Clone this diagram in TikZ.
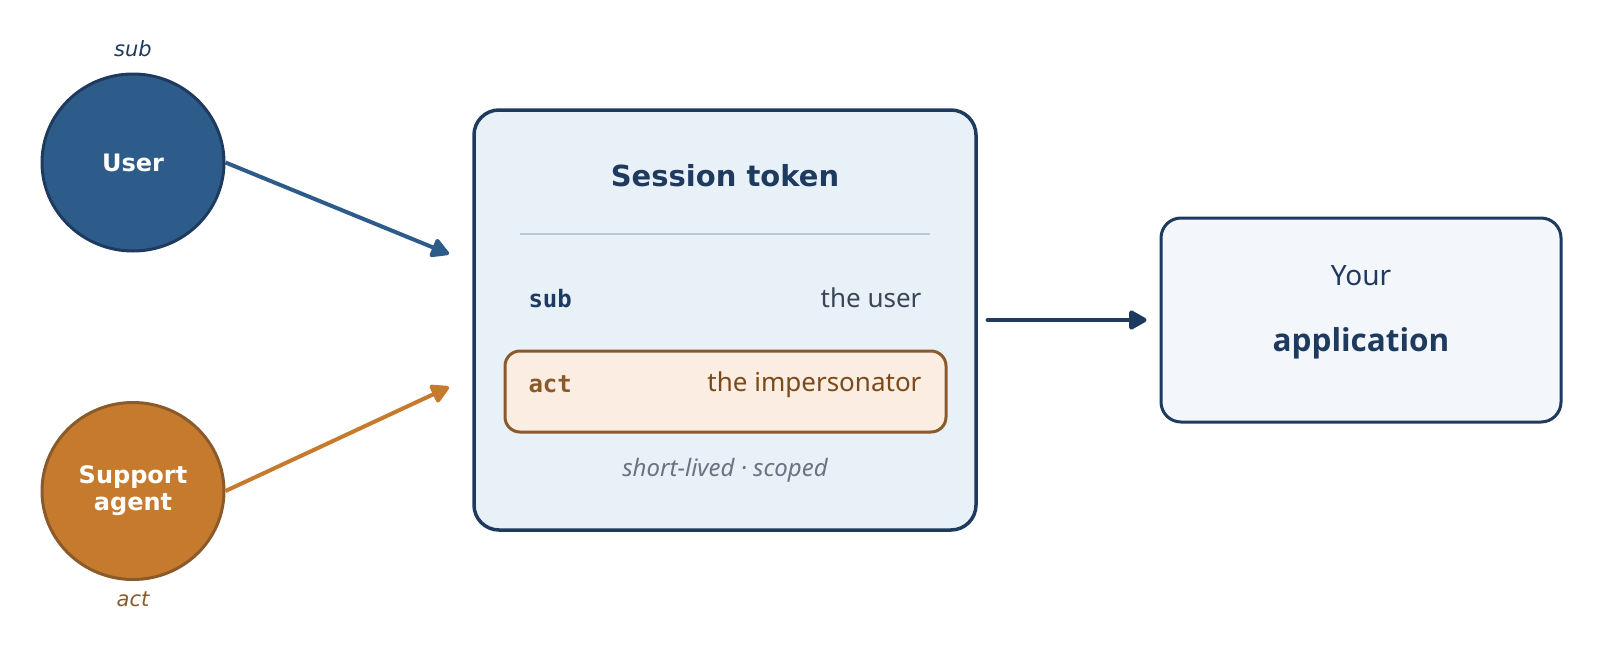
\documentclass[tikz,border=0pt]{standalone}
\usepackage{fontspec}
\setmainfont{DejaVu Sans}
\newfontfamily\noto{Noto Sans}
\newfontfamily\opensans{Open Sans}
\newfontfamily\dvmono{DejaVu Sans Mono}
\usetikzlibrary{arrows.meta,shapes.geometric}
\definecolor{navy}{HTML}{1F3A5F}
\definecolor{userblue}{HTML}{2E5C8A}
\definecolor{agentorange}{HTML}{C67A2E}
\definecolor{brown}{HTML}{8B5A2B}
\definecolor{browntext}{HTML}{7A4A1A}
\definecolor{tokenfill}{HTML}{E8F0F8}
\definecolor{actfill}{HTML}{FBEDE1}
\definecolor{appfill}{HTML}{F3F6FA}
\definecolor{sepline}{HTML}{B8C8D8}
\definecolor{graytext}{HTML}{6B7280}
\definecolor{darktext}{HTML}{3A4656}
\tikzset{
  actor/.style={ellipse, minimum width=182pt, minimum height=177pt, line width=3pt,
    text=white, font=\fontsize{24}{27}\selectfont\bfseries, align=center},
  role/.style={font=\fontsize{21}{24}\selectfont\itshape},
  flow/.style={line width=4pt, -{Triangle[length=20pt,width=21pt,round]}},
  keytxt/.style={font=\dvmono\fontsize{24}{28}\selectfont\bfseries, anchor=west},
  valtxt/.style={font=\noto\fontsize{26}{30}\selectfont, anchor=east},
}
\begin{document}
\begin{tikzpicture}[x=1pt,y=-1pt]
\useasboundingbox (0,0) rectangle (1603,645);
% actors
\node[actor, fill=userblue, draw=navy] (user) at (133,162.5) {User};
\node[actor, fill=agentorange, draw=brown] (agent) at (133,491) {Support\\agent};
\node[role, text=navy] (sublbl) at (133,49) {sub};
\node[role, text=brown] (actlbl) at (133,599) {act};
% session token box
\node[draw=navy, fill=tokenfill, line width=3.5pt, rounded corners=25pt,
  minimum width=502pt, minimum height=420pt] (token) at (725,320) {};
\node[text=navy, font=\fontsize{29}{32}\selectfont\bfseries] (title) at (725,176) {Session token};
\draw[sepline, line width=2pt] (520,234) coordinate (sepL) -- (930,234) coordinate (sepR);
\node[keytxt, text=navy] (subkey) at (525,298.5) {sub};
\node[valtxt, text=darktext] (subval) at (925,298) {the user};
\node[draw=brown, fill=actfill, line width=3pt, rounded corners=15pt,
  minimum width=441pt, minimum height=81pt] (actrow) at (725.5,391.5) {};
\node[keytxt, text=brown] (actkey) at (525,384) {act};
\node[valtxt, text=browntext] (actval) at (925,384.5) {the impersonator};
\node[text=graytext, font=\noto\fontsize{24}{27}\selectfont\itshape] (note) at (725,470) {short-lived · scoped};
% application
\node[draw=navy, fill=appfill, line width=3pt, rounded corners=20pt,
  minimum width=400pt, minimum height=204pt] (app) at (1361,320) {};
\node[text=navy, font=\noto\fontsize{28}{32}\selectfont] (your) at (1361,276) {Your};
\node[text=navy, font=\opensans\fontsize{31.5}{36}\selectfont\bfseries] (appl) at (1361,343) {application};
% connectors
\coordinate (inUser) at (449,254);
\coordinate (inAgent) at (449,387);
\draw[flow, userblue] (user.east) -- (inUser);
\draw[flow, agentorange] (agent.east) -- (inAgent);
\draw[flow, navy, line width=4.5pt, line cap=round, shorten >=13pt] (token.east) ++(10,0) coordinate (outStart) -- (app.west);
\end{tikzpicture}
\end{document}
